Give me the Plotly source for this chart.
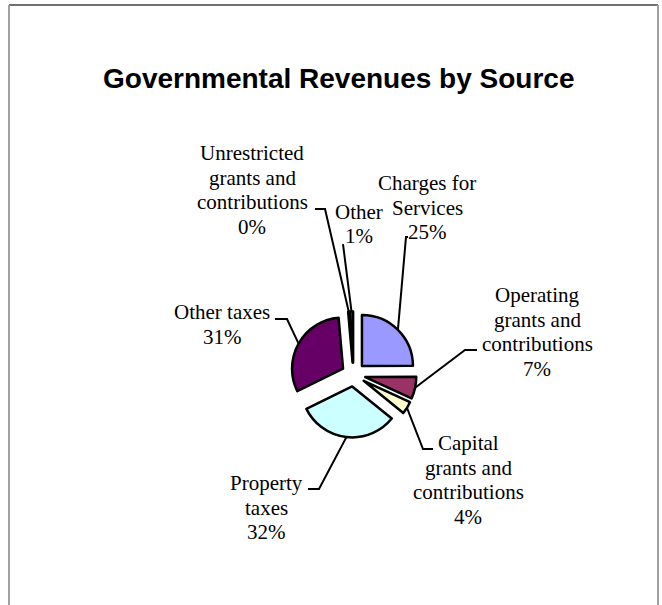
import math
import plotly.graph_objects as go

W, H = 662, 605

# Revenue sources, clockwise from 12 o'clock
categories = [
    "Charges for Services",
    "Operating grants and contributions",
    "Capital grants and contributions",
    "Property taxes",
    "Other taxes",
    "Unrestricted grants and contributions",
    "Other",
]
values = [25, 7, 4, 32, 31, 0.4, 1]
colors = ["#9999FF", "#993366", "#FFFFCC", "#CCFFFF", "#660066", "#FF8080", "#0066CC"]
label_lines = [
    ["Charges for", "Services"],
    ["Operating", "grants and", "contributions"],
    ["Capital", "grants and", "contributions"],
    ["Property", "taxes"],
    ["Other taxes"],
    ["Unrestricted", "grants and", "contributions"],
    ["Other"],
]

# Label block placement (pixels): centre x, first line y, leader-line elbow points
label_pos = [
    (427, 183, [(406, 237), (408, 237)]),
    (537, 295, [(465, 350), (477, 350)]),
    (468, 443, [(423, 449), (433, 449)]),
    (266, 483, [(319, 489), (308, 489)]),
    (222, 312, [(287, 319), (275, 319)]),
    (252, 153, [(325, 209), (315, 209)]),
    (359, 212, [(343, 244)]),
]
LINE_H = 24.5

# Pie geometry (pixels)
PULL = 0.235
CX, CY = 353.5, 374.5
BOX = 126
R = BOX / (2 + 2 * PULL)


def px(x):
    return x / W


def py(y):
    return 1 - y / H


fig = go.Figure(
    go.Pie(
        labels=categories,
        values=values,
        sort=False,
        direction="clockwise",
        rotation=0,
        pull=[PULL] * len(values),
        marker=dict(colors=colors, line=dict(color="black", width=2.5)),
        textinfo="none",
        hoverinfo="label+percent",
        showlegend=False,
        domain=dict(
            x=[px(CX - BOX / 2), px(CX + BOX / 2)],
            y=[py(CY + BOX / 2), py(CY - BOX / 2)],
        ),
    )
)

total = sum(values)
annotations = []
shapes = []
cum = 0.0
serif = "Times New Roman, Liberation Serif, serif"
for v, lines, (lx, ly, elbow) in zip(values, label_lines, label_pos):
    theta = 2 * math.pi * (cum + v / 2) / total
    cum += v
    # outer edge of the exploded slice at its mid-angle
    d = R * (1 + PULL)
    ex = CX + d * math.sin(theta)
    ey = CY - d * math.cos(theta)
    pts = [(ex, ey)] + elbow
    path = "M " + " L ".join(f"{px(x):.5f},{py(y):.5f}" for x, y in pts)
    shapes.append(dict(type="path", path=path, xref="paper", yref="paper",
                       line=dict(color="black", width=2)))
    text_lines = lines + [f"{round(v / total * 100)}%"]
    for k, t in enumerate(text_lines):
        annotations.append(dict(
            text=t, x=px(lx), y=py(ly + k * LINE_H), xref="paper", yref="paper",
            xanchor="center", yanchor="middle", showarrow=False,
            font=dict(family=serif, size=21, color="black"),
        ))

annotations.append(dict(
    text="<b>Governmental Revenues by Source</b>", x=px(339), y=py(78),
    xref="paper", yref="paper", xanchor="center", yanchor="middle", showarrow=False,
    font=dict(family="Arial, Liberation Sans, sans-serif", size=28, color="black"),
))

# Chart area frame
shapes += [
    dict(type="line", xref="paper", yref="paper", x0=px(9), x1=px(658), y0=py(5), y1=py(5),
         line=dict(color="#404040", width=1.5)),
    dict(type="line", xref="paper", yref="paper", x0=px(9), x1=px(9), y0=py(5), y1=py(606),
         line=dict(color="#a0a0a0", width=2)),
    dict(type="line", xref="paper", yref="paper", x0=px(658), x1=px(658), y0=py(5), y1=py(606),
         line=dict(color="#a0a0a0", width=2)),
]

fig.update_layout(
    width=W, height=H, autosize=False,
    margin=dict(l=0, r=0, t=0, b=0),
    paper_bgcolor="white", plot_bgcolor="white",
    annotations=annotations, shapes=shapes,
)

fig.write_html("out.html")
